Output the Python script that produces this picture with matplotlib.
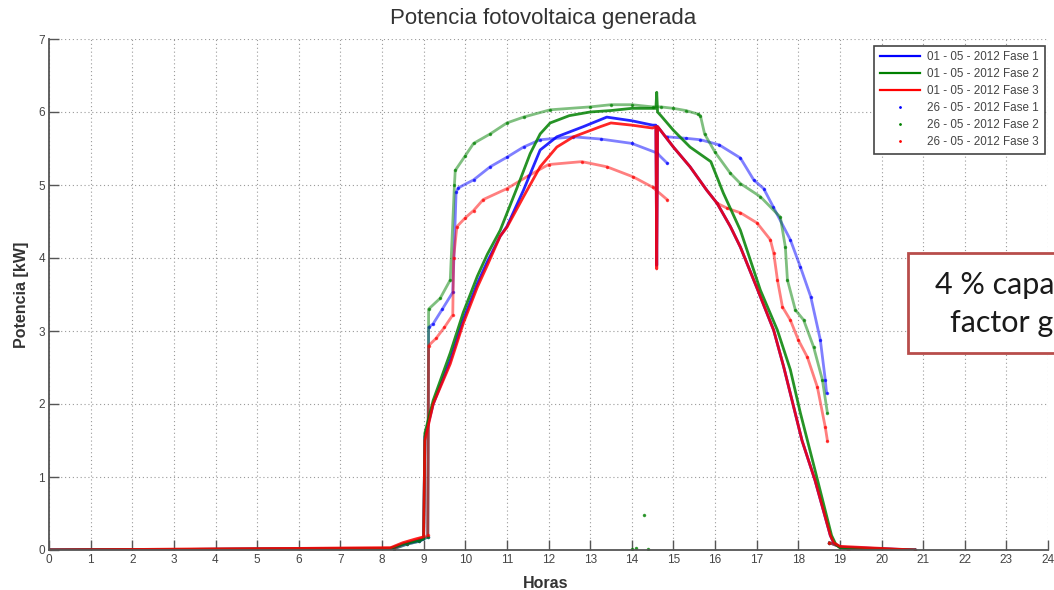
import numpy as np
import matplotlib
matplotlib.use("Agg")
import matplotlib.pyplot as plt
from matplotlib.lines import Line2D
from matplotlib.patches import Rectangle

plt.rcParams["font.family"] = ["Liberation Sans", "DejaVu Sans"]

nan = np.nan

# 01-05-2012 (solid lines): hours / kW per phase
t_l1 = [0, 8.2, 8.5, 8.8, 9.0, 9.03, 9.23, 9.64, 9.95, 10.29, 10.53, 10.84, 11.0, 11.4, 11.8, 12.2,
        12.84, 13.4, 14.0, 14.5, 14.58, 14.6, 14.62, 14.69, 15.0, 15.4, 15.8, 16.05, 16.37, 16.61,
        17.0, 17.41, 17.65, 17.89, 18.09, 18.4, 18.6, 18.77, 18.85, 19.0, 20.8]
p_l1 = [0, 0.02, 0.08, 0.12, 0.15, 1.55, 2.0, 2.6, 3.15, 3.65, 3.95, 4.3, 4.43, 4.93, 5.48, 5.66,
        5.8, 5.93, 5.88, 5.82, 5.82, 3.9, 5.8, 5.75, 5.52, 5.25, 4.93, 4.75, 4.43, 4.15,
        3.6, 3.01, 2.51, 1.96, 1.5, 0.96, 0.55, 0.2, 0.1, 0.04, 0]

t_l2 = [0, 8.2, 8.5, 8.8, 9.0, 9.03, 9.23, 9.64, 9.95, 10.29, 10.53, 10.84, 11.25, 11.56, 11.8,
        12.04, 12.5, 13.0, 13.5, 14.0, 14.5, 14.58, 14.6, 14.62, 14.7, 15.0, 15.4, 15.9, 16.2,
        16.61, 17.09, 17.5, 17.81, 18.05, 18.4, 18.6, 18.8, 18.9, 19.0, 20.8]
p_l2 = [0, 0.02, 0.08, 0.12, 0.15, 1.6, 2.05, 2.7, 3.25, 3.75, 4.05, 4.38, 4.97, 5.43, 5.7,
        5.85, 5.95, 6.0, 6.02, 6.05, 6.05, 6.05, 6.27, 6.0, 5.95, 5.75, 5.52, 5.32, 4.89,
        4.38, 3.56, 3.01, 2.47, 1.88, 1.1, 0.65, 0.2, 0.08, 0.03, 0]

t_l3 = [0, 8.2, 8.5, 8.8, 9.0, 9.03, 9.23, 9.64, 9.95, 10.29, 10.53, 10.84, 11.0, 11.4, 11.8, 12.2,
        12.6, 13.25, 13.5, 14.0, 14.5, 14.58, 14.6, 14.62, 14.69, 15.0, 15.4, 15.8, 16.05, 16.37,
        16.61, 17.0, 17.41, 17.65, 17.89, 18.09, 18.4, 18.6, 18.77, 18.85, 19.0, 20.8]
p_l3 = [0, 0.03, 0.1, 0.15, 0.18, 1.5, 2.0, 2.55, 3.1, 3.6, 3.9, 4.3, 4.42, 4.84, 5.25, 5.52,
        5.66, 5.8, 5.85, 5.82, 5.78, 5.8, 3.85, 5.8, 5.75, 5.52, 5.25, 4.93, 4.75, 4.43,
        4.15, 3.6, 3.01, 2.51, 1.96, 1.5, 0.96, 0.55, 0.2, 0.1, 0.05, 0]

# 26-05-2012 (dots): hours / kW per phase, nan = gap in the record
t_d1 = [0, 8.3, 8.6, 8.9, 9.1, 9.12, 9.23, 9.45, 9.7, 9.78, 9.83, 10.2, 10.6, 11.0, 11.4, 11.8,
        12.6, 13.25, 14.0, 14.6, 14.85, nan, 14.85, 15.3, 15.65, 16.1, 16.61, 16.93, 17.17, 17.4,
        17.81, 18.05, 18.3, 18.53, 18.65, 18.68, nan, 18.75, 19.2, 20.8]
p_d1 = [0, 0.02, 0.08, 0.12, 0.18, 3.05, 3.1, 3.3, 3.53, 4.9, 4.96, 5.07, 5.25, 5.38, 5.52, 5.62,
        5.66, 5.63, 5.57, 5.44, 5.3, nan, 5.66, 5.64, 5.62, 5.55, 5.37, 5.07, 4.95, 4.7,
        4.25, 3.88, 3.47, 2.88, 2.33, 2.15, nan, 0.1, 0, 0]

t_d2 = [0, 8.3, 8.6, 8.9, 9.1, 9.12, 9.4, 9.64, 9.74, 9.76, 10.0, 10.2, 10.6, 11.0, 11.4, 12.04,
        13.0, 13.5, 14.0, 14.5, 14.7, 15.0, 15.3, 15.6, 15.65, 15.75, 16.0, 16.37, 16.61, 17.09,
        17.57, 17.69, 17.74, 17.93, 18.13, 18.37, 18.58, 18.7, nan, 18.75, 19.2, 20.8]
p_d2 = [0, 0.02, 0.08, 0.12, 0.18, 3.3, 3.45, 3.7, 5.0, 5.2, 5.4, 5.57, 5.7, 5.85, 5.93, 6.03,
        6.07, 6.1, 6.1, 6.07, 6.07, 6.05, 6.02, 5.97, 5.95, 5.7, 5.45, 5.16, 5.02, 4.84,
        4.56, 4.15, 3.7, 3.29, 3.15, 2.78, 2.33, 1.88, nan, 0.1, 0, 0]

t_d3 = [0, 8.3, 8.6, 8.9, 9.1, 9.12, 9.3, 9.5, 9.7, 9.72, 9.8, 10.0, 10.2, 10.43, 11.0, 11.5,
        12.0, 12.8, 13.4, 14.04, 14.5, 14.85, nan, 16.05, 16.3, 16.61, 17.01, 17.33, 17.41, 17.5,
        17.62, 17.81, 18.0, 18.22, 18.46, 18.65, 18.7, nan, 18.75, 19.2, 20.8]
p_d3 = [0, 0.03, 0.1, 0.15, 0.2, 2.8, 2.9, 3.05, 3.22, 4.0, 4.43, 4.55, 4.65, 4.8, 4.95, 5.12,
        5.28, 5.32, 5.25, 5.11, 4.97, 4.8, nan, 4.75, 4.68, 4.62, 4.48, 4.25, 4.07, 3.7,
        3.33, 3.15, 2.88, 2.64, 2.23, 1.68, 1.5, nan, 0.1, 0, 0]

# a few loose green samples near 14 h
t_stray = [14.0, 14.1, 14.3, 14.4]
p_stray = [0.02, 0.03, 0.48, 0.02]

colors = ["#0000ff", "#008000", "#ff0000"]
line_labels = ["01 - 05 - 2012 Fase 1", "01 - 05 - 2012 Fase 2", "01 - 05 - 2012 Fase 3"]
dot_labels = ["26 - 05 - 2012 Fase 1", "26 - 05 - 2012 Fase 2", "26 - 05 - 2012 Fase 3"]
hours = list(range(0, 25))
kw_ticks = list(range(0, 8))

fig = plt.figure(figsize=(10.54, 5.90), dpi=100)
ax = fig.add_axes([49 / 1054, 40 / 590, 999 / 1054, 511 / 590])

lines = [(t_l1, p_l1), (t_l2, p_l2), (t_l3, p_l3)]
dots = [(t_d1, p_d1), (t_d2, p_d2), (t_d3, p_d3)]

for (t, p), c in zip(dots, colors):
    ax.plot(t, p, color=c, lw=2.0, alpha=0.5)
    ax.plot(t, p, ".", color=c, ms=3, alpha=0.6)
ax.plot(t_stray, p_stray, ".", color=colors[1], ms=3, alpha=0.7)
for (t, p), c in zip(lines, colors):
    ax.plot(t, p, color=c, lw=2.0, alpha=0.85)

ax.set_xlim(0, 24)
ax.set_ylim(0, 7)
ax.set_xticks(hours)
ax.set_yticks(kw_ticks)
ax.grid(True, color="#9a9a9a", lw=0.8, linestyle=(0, (1, 2.5)))
ax.set_axisbelow(True)
for s in ["top", "right"]:
    ax.spines[s].set_visible(False)
for s in ["left", "bottom"]:
    ax.spines[s].set_color("#555555")
    ax.spines[s].set_linewidth(1.3)
ax.tick_params(direction="in", length=7, width=1, colors="#555555", labelsize=8.5,
               labelcolor="#444444", pad=3)

ax.set_xlabel("Horas", fontsize=11.5, fontweight="bold", color="#333333")
ax.xaxis.set_label_coords(0.497, -0.05)
ax.set_ylabel("Potencia [kW]", fontsize=11.5, fontweight="bold", color="#333333")
ax.yaxis.set_label_coords(-0.02, 0.5)
fig.text(0.515, 0.968, "Potencia fotovoltaica generada", ha="center", va="center",
         fontsize=16, color="#333333")

handles = [Line2D([], [], color=c, lw=1.6) for c in colors]
handles += [Line2D([], [], color=c, marker=".", ms=2, linestyle="none") for c in colors]
leg = ax.legend(handles, line_labels + dot_labels, loc="upper right",
                bbox_to_anchor=(0.997, 0.987), borderaxespad=0, fontsize=8.4,
                fancybox=False, edgecolor="#444444", framealpha=1,
                handlelength=3.5, labelspacing=0.42, borderpad=0.5, handletextpad=0.6)
leg.get_frame().set_linewidth(1.2)
for txt in leg.get_texts():
    txt.set_color("#444444")

box = Rectangle((908 / 1054, 237 / 590), 160 / 1054, 100 / 590, transform=fig.transFigure,
                facecolor="white", edgecolor="#b84d4b", lw=2, zorder=5)
fig.add_artist(box)
fig.text(935 / 1054, 1 - 285 / 590, "4 % capa", fontsize=22, family="Lato",
         color="#1a1a1a", va="center", ha="left", zorder=6)
fig.text(950 / 1054, 1 - 323 / 590, "factor g", fontsize=22, family="Lato",
         color="#1a1a1a", va="center", ha="left", zorder=6)

fig.savefig("out.png", dpi=100)
